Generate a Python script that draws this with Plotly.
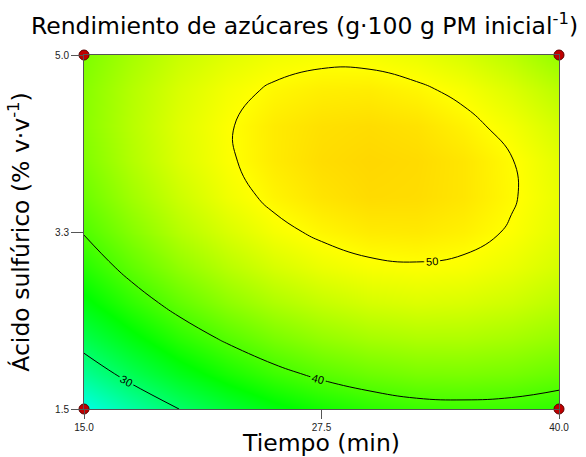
import plotly.graph_objects as go

# Tiempo (min) grid positions
tiempo = [15.0, 17.5, 20.0, 22.5, 25.0, 27.5, 30.0, 32.5, 35.0, 37.5, 40.0]
# Ácido sulfúrico (% v/v) grid positions
acido = [1.50, 1.85, 2.20, 2.55, 2.90, 3.25, 3.60, 3.95, 4.30, 4.65, 5.00]
# Rendimiento de azúcares (rows = acido, cols = tiempo)
rend_150 = [23.1, 26.8, 30.0, 32.8, 35.0, 36.8, 38.1, 38.9, 39.1, 38.9, 38.3]
rend_185 = [27.7, 31.3, 34.4, 37.0, 39.1, 40.7, 41.8, 42.5, 42.6, 42.3, 41.5]
rend_220 = [31.7, 35.1, 38.1, 40.5, 42.5, 44.0, 45.0, 45.5, 45.5, 45.0, 44.1]
rend_255 = [35.1, 38.4, 41.2, 43.6, 45.4, 46.7, 47.6, 48.0, 47.8, 47.2, 46.1]
rend_290 = [37.9, 41.1, 43.8, 46.0, 47.7, 48.9, 49.6, 49.8, 49.6, 48.8, 47.6]
rend_325 = [40.2, 43.2, 45.8, 47.8, 49.4, 50.4, 51.0, 51.1, 50.7, 49.8, 48.4]
rend_360 = [41.8, 44.7, 47.1, 49.1, 50.5, 51.4, 51.9, 51.8, 51.3, 50.2, 48.7]
rend_395 = [42.9, 45.7, 48.0, 49.7, 51.0, 51.8, 52.1, 51.9, 51.3, 50.1, 48.4]
rend_430 = [43.4, 46.0, 48.2, 49.8, 51.0, 51.6, 51.8, 51.5, 50.6, 49.3, 47.5]
rend_465 = [43.3, 45.8, 47.8, 49.3, 50.3, 50.8, 50.9, 50.4, 49.5, 48.0, 46.1]
rend_500 = [42.7, 45.0, 46.9, 48.2, 49.1, 49.5, 49.4, 48.8, 47.7, 46.1, 44.0]
rendimiento = [rend_150, rend_185, rend_220, rend_255, rend_290, rend_325,
               rend_360, rend_395, rend_430, rend_465, rend_500]

# design points (corners)
design_tiempo = [15.0, 15.0, 40.0, 40.0]
design_acido = [1.5, 5.0, 1.5, 5.0]

x_tickvals = [15.0, 27.5, 40.0]
x_ticktext = ["15.0", "27.5", "40.0"]
y_tickvals = [1.5, 3.25, 5.0]
y_ticktext = ["1.5", "3.3", "5.0"]

FONT = "Arial, 'Liberation Sans', sans-serif"
TFONT = "'DejaVu Sans', sans-serif"

colorscale = [
    [0.0, "rgb(0,255,230)"],
    [0.4376, "rgb(0,255,0)"],
    [0.924, "rgb(255,255,0)"],
    [1.0, "rgb(255,215,0)"],
]

fig = go.Figure()
fig.add_trace(go.Contour(
    x=tiempo, y=acido, z=rendimiento,
    zmin=23.1, zmax=52.12,
    colorscale=colorscale, showscale=False,
    contours=dict(start=30, end=50, size=10, coloring="heatmap",
                  showlabels=True,
                  labelfont=dict(size=11, color="black", family=FONT)),
    line=dict(color="black", width=1, smoothing=1.3),
    hoverinfo="skip",
))
fig.add_trace(go.Scatter(
    x=design_tiempo, y=design_acido, mode="markers",
    marker=dict(size=10, color="#c00000", line=dict(color="#5a0000", width=1)),
    cliponaxis=False, hoverinfo="skip", showlegend=False,
))

axis_common = dict(showline=True, mirror=True, linecolor="#555555", linewidth=1,
                   ticks="outside", tickcolor="#555555", showgrid=False,
                   zeroline=False, tickfont=dict(size=10, color="#222222", family=FONT))

fig.update_layout(
    width=586, height=457,
    margin=dict(l=84, r=27, t=55, b=48),
    paper_bgcolor="white", plot_bgcolor="white",
    font=dict(family=FONT, color="black"),
    showlegend=False,
    title=dict(text="Rendimiento de azúcares (g·100 g PM inicial<sup>-1</sup>)",
               font=dict(size=23.5, color="black", family=TFONT),
               xref="container", x=31/586, xanchor="left",
               yref="container", y=1-26/457, yanchor="middle"),
    xaxis=dict(range=[15, 40], tickvals=x_tickvals, ticktext=x_ticktext,
               ticklen=9, automargin=False,
               title=dict(text="Tiempo (min)", font=dict(size=23.5, color="black", family=TFONT),
                          standoff=1),
               **axis_common),
    yaxis=dict(range=[1.5, 5.0], tickvals=y_tickvals, ticktext=y_ticktext,
               ticklen=12, automargin=False,
               title=dict(text="Ácido sulfúrico (% v·v<sup>-1</sup>)",
                          font=dict(size=23.5, color="black", family=TFONT),
                          standoff=18),
               **axis_common),
)

fig.write_html("out.html", config={"displayModeBar": False},
               post_script="document.body.style.margin='0';")
